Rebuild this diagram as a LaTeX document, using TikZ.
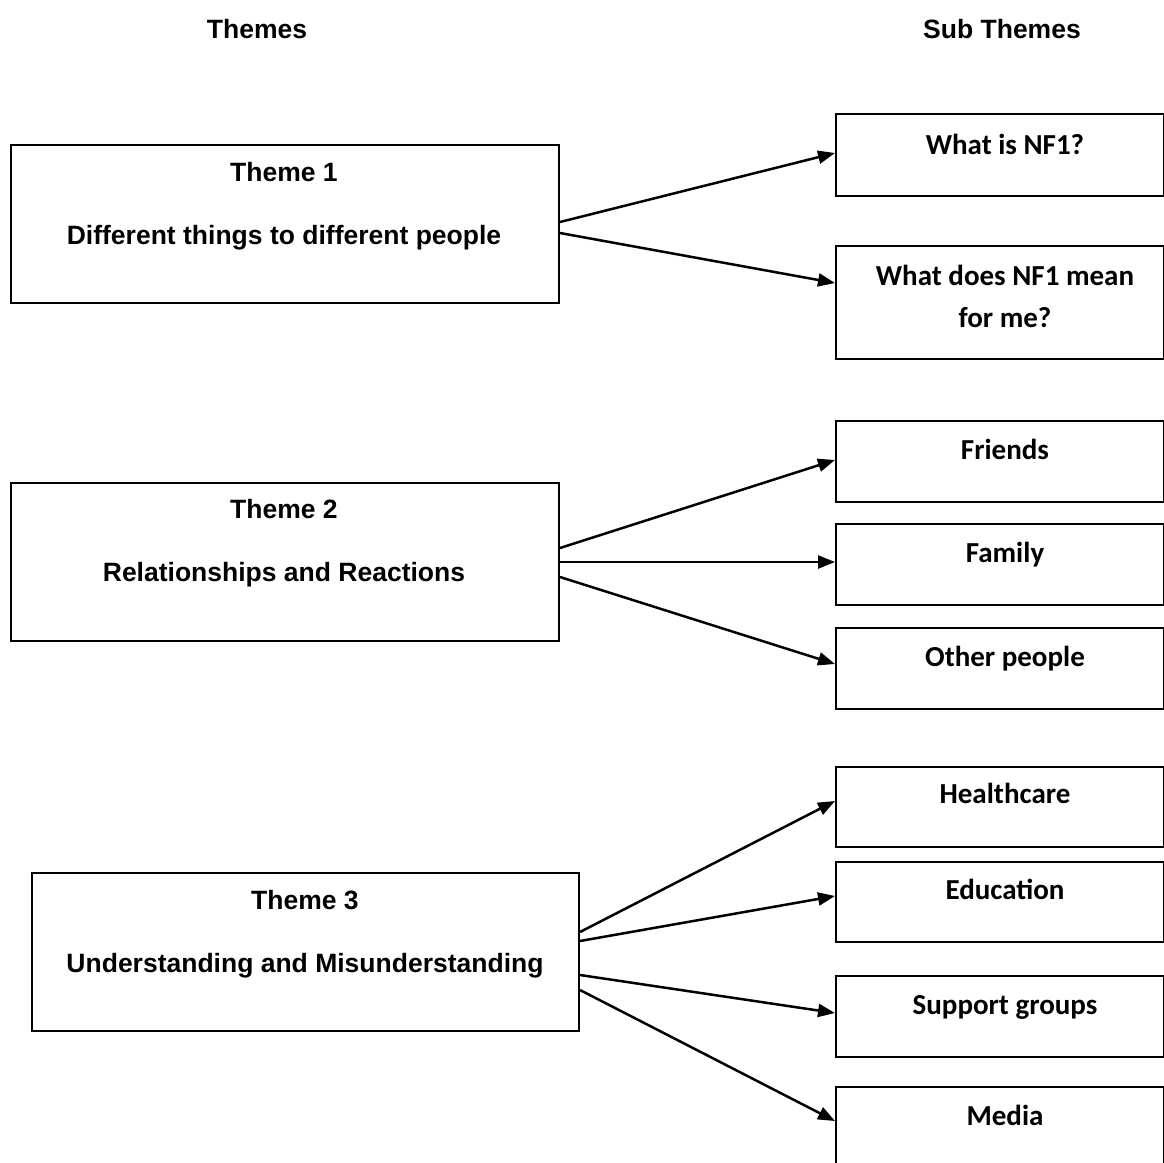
\documentclass[tikz,border=0pt]{standalone}
\usepackage{fontspec}
\usetikzlibrary{arrows.meta,calc}
\newfontfamily\themefont{Liberation Sans}
\newfontfamily\subfont{Carlito}
\begin{document}
\begin{tikzpicture}[x=1pt,y=-1pt,
  box/.style={draw,line width=2pt,inner sep=0pt,anchor=north west,rectangle},
  ttext/.style={anchor=base,inner sep=0pt,font=\themefont\bfseries\fontsize{26.5}{30}\selectfont},
  stext/.style={anchor=base,inner sep=0pt,font=\subfont\bfseries\fontsize{29}{34}\selectfont},
  arr/.style={line width=2.5pt,-{Triangle[length=17pt,width=13pt]}}]
\useasboundingbox (0,0) rectangle (1164,1162);
\clip (0,0) rectangle (1164,1162);
% headers
\node[ttext] (h1) at (257,38) {Themes};
\node[ttext] (h2) at (1002,38) {Sub Themes};
% theme boxes
\node[box,minimum width=548pt,minimum height=158pt] (t1) at (10,144) {};
\node[box,minimum width=548pt,minimum height=158pt] (t2) at (10,482) {};
\node[box,minimum width=547pt,minimum height=158pt] (t3) at (31,872) {};
\node[ttext] (t1a) at (284,181) {Theme 1};
\node[ttext] (t1b) at (284,244) {Different things to different people};
\node[ttext] (t2a) at (284,518) {Theme 2};
\node[ttext] (t2b) at (284,581) {Relationships and Reactions};
\node[ttext] (t3a) at (305,909) {Theme 3};
\node[ttext] (t3b) at (305,972) {Understanding and Misunderstanding};
% sub theme boxes
\node[box,minimum width=328pt,minimum height=82pt] (s1) at (835,113) {};
\node[box,minimum width=328pt,minimum height=113pt] (s2) at (835,245) {};
\node[box,minimum width=328pt,minimum height=81pt] (s3) at (835,420) {};
\node[box,minimum width=328pt,minimum height=81pt] (s4) at (835,523) {};
\node[box,minimum width=328pt,minimum height=81pt] (s5) at (835,627) {};
\node[box,minimum width=328pt,minimum height=80pt] (s6) at (835,766) {};
\node[box,minimum width=328pt,minimum height=80pt] (s7) at (835,861) {};
\node[box,minimum width=328pt,minimum height=81pt] (s8) at (835,975) {};
\node[box,minimum width=328pt,minimum height=90pt] (s9) at (835,1086) {};
\node[stext] (s1t) at (1005,154) {What is NF1?};
\node[stext] (s2t) at (1005,285) {What does NF1 mean};
\node[stext] (s2u) at (1005,327) {for me?};
\node[stext] (s3t) at (1005,459) {Friends};
\node[stext] (s4t) at (1005,562) {Family};
\node[stext] (s5t) at (1005,666) {Other people};
\node[stext] (s6t) at (1005,803) {Healthcare};
\node[stext] (s7t) at (1005,899) {Education};
\node[stext] (s8t) at (1005,1014) {Support groups};
\node[stext] (s9t) at (1005,1125) {Media};
% connectors
\draw[arr] ($(t1.north east)+(0,78)$) -- ($(s1.north west)+(0,40)$);
\draw[arr] ($(t1.north east)+(0,89)$) -- ($(s2.north west)+(0,38)$);
\draw[arr] ($(t2.north east)+(0,66)$) -- ($(s3.north west)+(0,40)$);
\draw[arr] ($(t2.north east)+(0,80)$) -- ($(s4.north west)+(0,39)$);
\draw[arr] ($(t2.north east)+(0,95)$) -- ($(s5.north west)+(0,37)$);
\draw[arr] ($(t3.north east)+(0,60)$) -- ($(s6.north west)+(0,35)$);
\draw[arr] ($(t3.north east)+(0,69)$) -- ($(s7.north west)+(0,35)$);
\draw[arr] ($(t3.north east)+(0,103)$) -- ($(s8.north west)+(0,38)$);
\draw[arr] ($(t3.north east)+(0,118)$) -- ($(s9.north west)+(0,35)$);
\end{tikzpicture}
\end{document}
